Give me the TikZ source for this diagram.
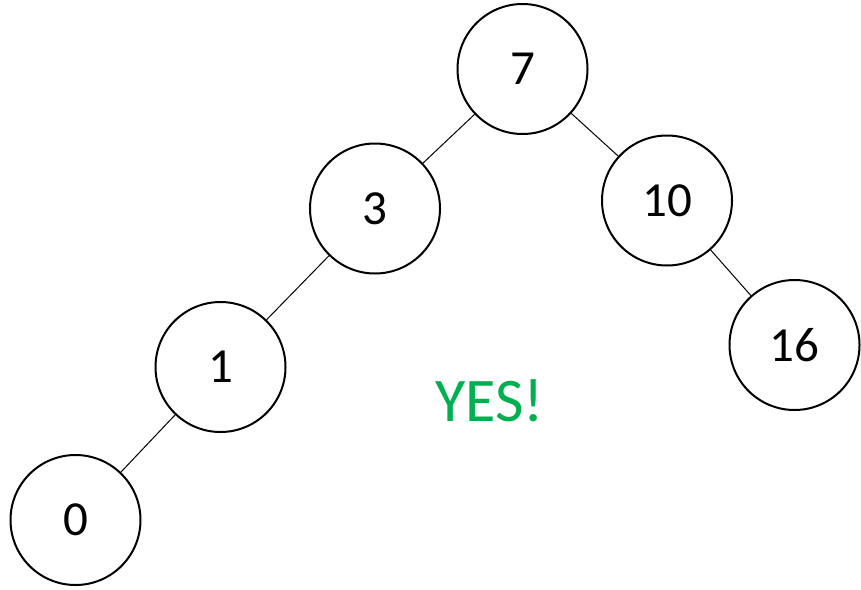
\documentclass[tikz,border=0pt]{standalone}
\usepackage{fontspec}
\setmainfont{Carlito}
\usepackage{tikz}
\usepackage{xcolor}
\definecolor{yesGreen}{HTML}{00B050}

\begin{document}
\begin{tikzpicture}[x=0.5pt, y=-0.5pt,
  key/.style={draw, circle, line width=1pt, minimum size=65pt, inner sep=0pt, font=\fontsize{24.5}{29}\selectfont},
  link/.style={line width=0.5pt}]
\useasboundingbox (0,0) rectangle (861,589);
\node[key] (n7)  at (522.5,69)  {7};
\node[key] (n3)  at (375,208.5) {3};
\node[key] (n10) at (667,200.5) {10};
\node[key] (n1)  at (220.5,367) {1};
\node[key] (n16) at (794.5,345) {16};
\node[key] (n0)  at (75.5,520)  {0};
\draw[link] (n7) -- (n3);
\draw[link] (n7) -- (n10);
\draw[link] (n3) -- (n1);
\draw[link] (n1) -- (n0);
\draw[link] (n10) -- (n16);
\node[color=yesGreen, font=\fontsize{31}{36}\selectfont] (yes) at (489.5,401) {YES!};
\end{tikzpicture}
\end{document}
